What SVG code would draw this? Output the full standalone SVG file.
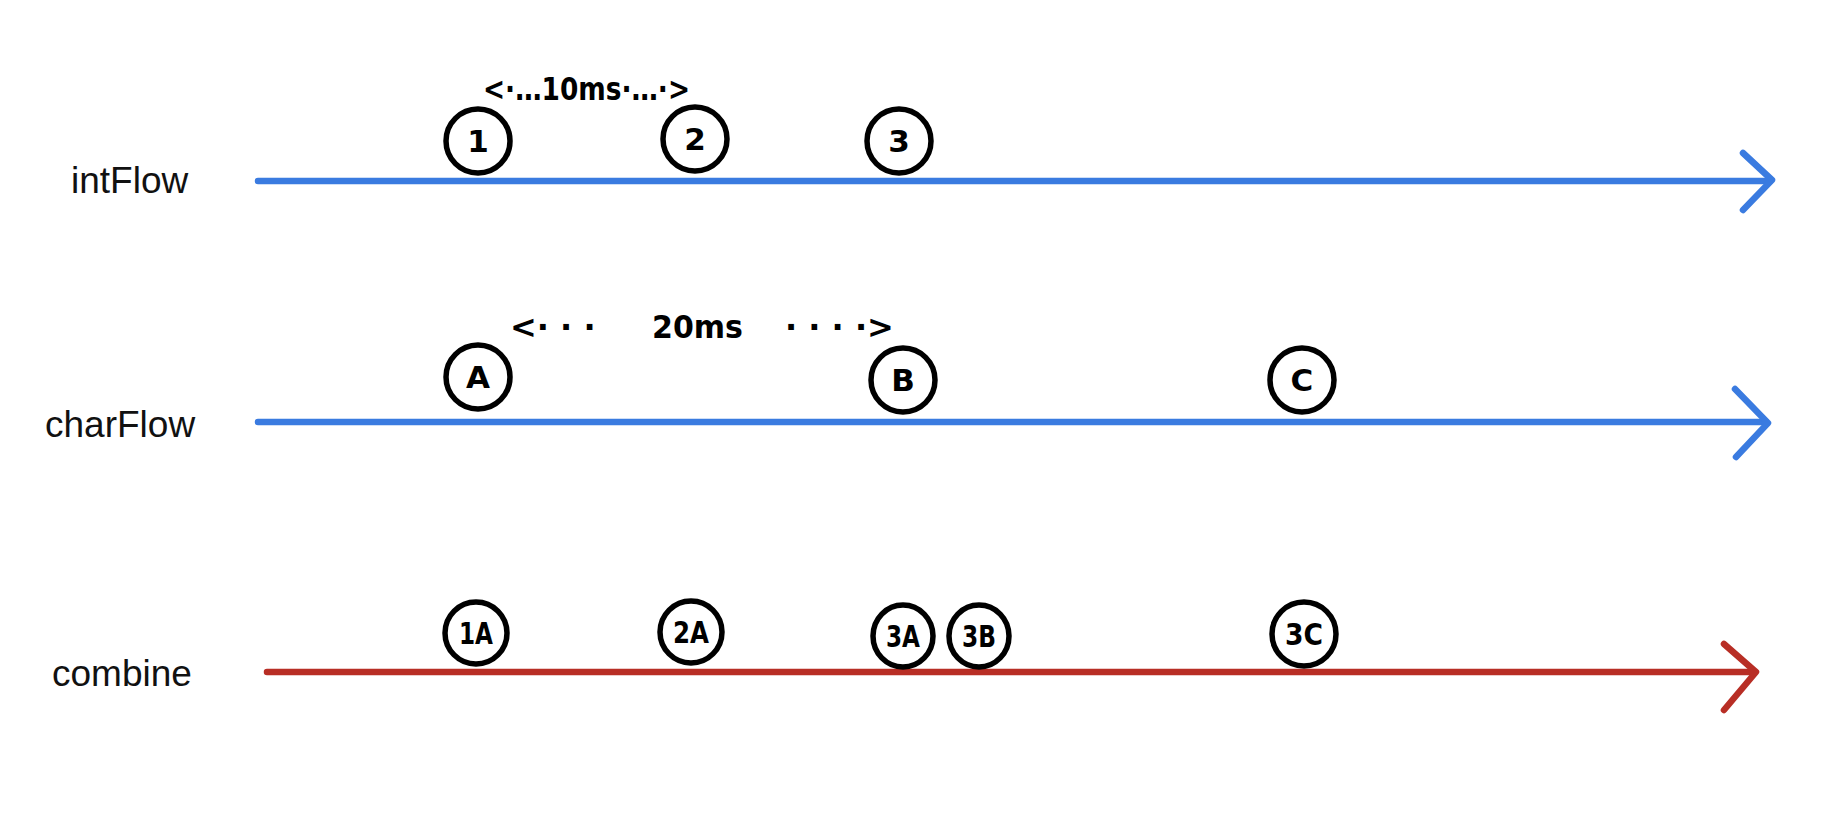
<svg xmlns="http://www.w3.org/2000/svg" width="1836" height="820" viewBox="0 0 1836 820">
<style>
.lbl{font-family:"Liberation Sans",Arial,sans-serif;font-size:37px;fill:#111}
.blue{stroke:#3a7be0;stroke-width:6.5;stroke-linecap:round;stroke-linejoin:round;fill:none}
.red{stroke:#b82e25;stroke-width:6.5;stroke-linecap:round;stroke-linejoin:round;fill:none}
.ev{fill:#fff;stroke:#000;stroke-width:5.5}
.evt{font-family:"DejaVu Sans",sans-serif;font-weight:bold;font-size:31px;fill:#000;text-anchor:middle}
.ann{font-family:"DejaVu Sans",sans-serif;font-weight:bold;font-size:32px;fill:#000}
</style>
<rect width="1836" height="820" fill="#fff"/>
<g id="labels">
<text class="lbl" x="71" y="193">intFlow</text>
<text class="lbl" x="45" y="437">charFlow</text>
<text class="lbl" x="52" y="686">combine</text>
</g>
<g id="connectors">
<line class="blue" x1="258" y1="181" x2="1770" y2="181"/>
<polyline class="blue" points="1743,153 1772,180 1743,210"/>
<line class="blue" x1="258" y1="422" x2="1766" y2="422"/>
<polyline class="blue" points="1735,389 1768,423 1736,457"/>
<line class="red" x1="267" y1="672" x2="1754" y2="672"/>
<polyline class="red" points="1724,644 1756,672 1724,710"/>
</g>
<g id="annotations">
<text class="ann" x="483" y="100" textLength="207" lengthAdjust="spacingAndGlyphs">&lt;·…10ms·…·&gt;</text>
<text class="ann" y="338"><tspan x="510">&lt;· · ·</tspan><tspan x="652" textLength="91" lengthAdjust="spacingAndGlyphs">20ms</tspan><tspan x="785">· · · ·&gt;</tspan></text>
</g>
<g id="n1"><circle class="ev" cx="478" cy="141" r="32"/><text class="evt" x="478" y="152">1</text></g>
<g id="n2"><circle class="ev" cx="695" cy="139" r="32"/><text class="evt" x="695" y="150">2</text></g>
<g id="n3"><circle class="ev" cx="899" cy="141" r="32"/><text class="evt" x="899" y="152">3</text></g>
<g id="nA"><circle class="ev" cx="478" cy="377" r="32"/><text class="evt" x="478" y="388">A</text></g>
<g id="nB"><circle class="ev" cx="903" cy="380" r="32"/><text class="evt" x="903" y="391">B</text></g>
<g id="nC"><circle class="ev" cx="1302" cy="380" r="32"/><text class="evt" x="1302" y="391">C</text></g>
<g id="n1A"><circle class="ev" cx="476" cy="633" r="31"/><text class="evt" x="476" y="644" textLength="34" lengthAdjust="spacingAndGlyphs">1A</text></g>
<g id="n2A"><circle class="ev" cx="691" cy="632" r="31"/><text class="evt" x="691" y="643" textLength="36" lengthAdjust="spacingAndGlyphs">2A</text></g>
<g id="n3A"><ellipse class="ev" cx="903" cy="636" rx="30" ry="31"/><text class="evt" x="903" y="647" textLength="34" lengthAdjust="spacingAndGlyphs">3A</text></g>
<g id="n3B"><ellipse class="ev" cx="979" cy="636" rx="30" ry="31"/><text class="evt" x="979" y="647" textLength="34" lengthAdjust="spacingAndGlyphs">3B</text></g>
<g id="n3C"><circle class="ev" cx="1304" cy="634" r="32"/><text class="evt" x="1304" y="645" textLength="38" lengthAdjust="spacingAndGlyphs">3C</text></g>
</svg>
